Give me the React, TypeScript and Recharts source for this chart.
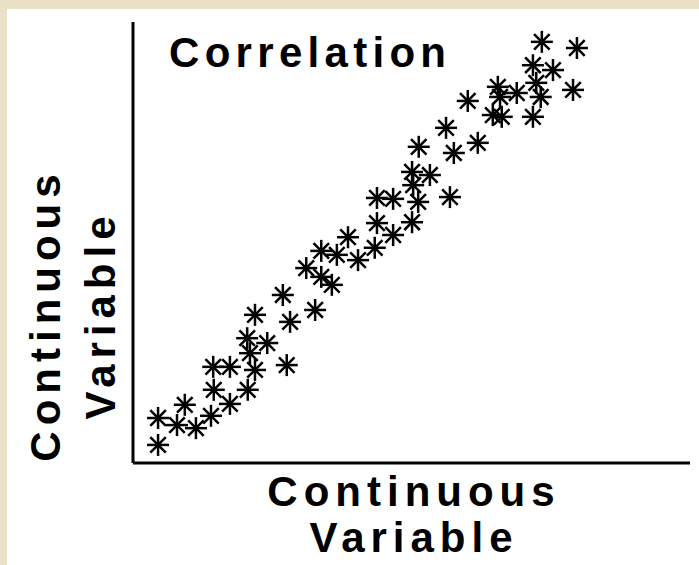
import React from 'react';
import { ScatterChart, Scatter, XAxis, YAxis, Label } from 'recharts';

// values, both axes on a 0–100 scale
const xValues = [
  4.5, 4.5, 7.9, 9.3, 11.3, 14.0, 17.4, 14.5, 20.6, 14.4, 17.4, 21.9, 21.0, 20.5,
  24.1, 27.6, 21.9, 26.9, 28.2, 32.7, 31.1, 33.8, 35.7, 33.8, 36.6, 38.6, 40.4,
  43.4, 43.8, 43.8, 46.7, 46.7, 50.1, 51.2, 50.3, 50.1, 53.3, 51.3, 56.9, 57.6,
  56.2, 61.9, 60.1, 64.6, 66.2, 65.5, 65.9, 68.9, 71.8, 73.2, 72.4, 71.8, 75.4,
  73.4, 79.7, 79.0,
];
const yValues = [
  4.1, 10.2, 8.6, 13.2, 7.9, 10.7, 13.4, 16.6, 16.6, 21.8, 21.8, 21.1, 24.9, 28.3,
  27.2, 22.2, 33.6, 38.1, 32.0, 34.7, 44.2, 42.2, 40.4, 48.1, 47.2, 51.2, 46.0,
  48.8, 54.4, 60.1, 59.9, 51.7, 54.6, 59.2, 63.0, 66.0, 65.3, 71.7, 60.3, 70.3,
  76.0, 72.6, 82.1, 78.9, 78.5, 85.3, 83.0, 83.9, 78.5, 83.0, 86.2, 90.2, 89.1,
  95.5, 94.1, 84.6,
];

const title = 'Correlation';
const xLabelLines = ['Continuous', 'Variable'];
const yLabelLines = ['Continuous', 'Variable'];

const points = xValues.map((x, i) => ({ x, y: yValues[i] }));

const FONT = '"Liberation Sans", Arial, sans-serif';

const Asterisk = (props: any) => {
  const { cx, cy } = props;
  const r = 11;
  const d = r * Math.SQRT1_2;
  return (
    <g stroke="#000" strokeWidth={2.5} strokeLinecap="butt">
      <line x1={cx} y1={cy - r} x2={cx} y2={cy + r} />
      <line x1={cx - r} y1={cy} x2={cx + r} y2={cy} />
      <line x1={cx - d} y1={cy - d} x2={cx + d} y2={cy + d} />
      <line x1={cx - d} y1={cy + d} x2={cx + d} y2={cy - d} />
    </g>
  );
};

const textStyle = {
  fontFamily: FONT,
  fontWeight: 700,
  fontSize: 42,
  letterSpacing: 6,
  fill: '#000',
} as const;

const XLabel = () => {
  const cx = 407;
  return (
    <g>
      {xLabelLines.map((t, i) => (
        <text key={t} x={cx} y={497 + i * 46} textAnchor="middle" style={textStyle}>
          {t}
        </text>
      ))}
    </g>
  );
};

const YLabel = () => {
  const cy = 306;
  return (
    <g>
      {yLabelLines.map((t, i) => {
        const x = 53 + i * 55;
        return (
          <text
            key={t}
            x={x}
            y={cy}
            textAnchor="middle"
            transform={`rotate(-90 ${x} ${cy})`}
            style={textStyle}
          >
            {t}
          </text>
        );
      })}
    </g>
  );
};

export default function App() {
  return (
    <div
      style={{
        position: 'fixed',
        left: 0,
        top: 0,
        width: 699,
        height: 565,
        background: '#E9E1C8',
      }}
    >
      <div style={{ position: 'absolute', left: 7, top: 9, width: 692, height: 556, background: '#fff' }}>
        <ScatterChart
          width={692}
          height={556}
          margin={{ top: 13, right: 9, left: 0, bottom: 0 }}
        >
          <XAxis
            type="number"
            dataKey="x"
            domain={[0, 100]}
            height={102}
            tick={false}
            tickLine={false}
            axisLine={{ stroke: '#000', strokeWidth: 3 }}
          >
            <Label content={<XLabel />} />
          </XAxis>
          <YAxis
            type="number"
            dataKey="y"
            domain={[0, 100]}
            width={126}
            tick={false}
            tickLine={false}
            axisLine={{ stroke: '#000', strokeWidth: 3 }}
          >
            <Label content={<YLabel />} />
          </YAxis>
          <Scatter data={points} shape={<Asterisk />} isAnimationActive={false} />
          <text x={162} y={58} style={{ ...textStyle, letterSpacing: 5.3 }}>
            {title}
          </text>
        </ScatterChart>
      </div>
    </div>
  );
}
